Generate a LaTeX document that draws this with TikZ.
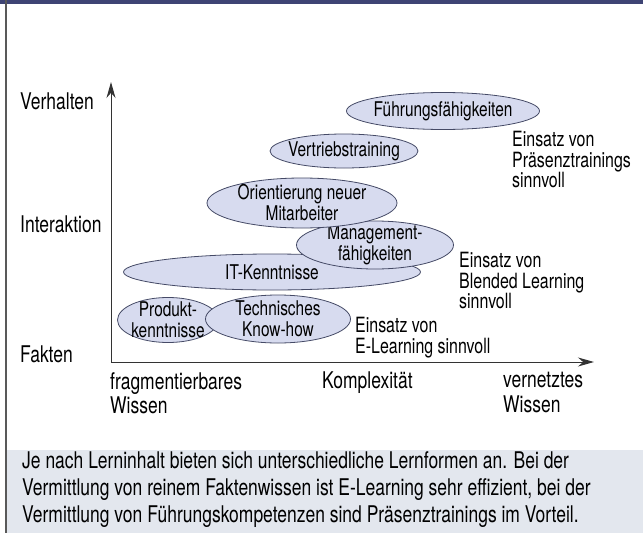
\documentclass[tikz,border=0pt]{standalone}
\usepackage{fontspec}
\setmainfont{TeX Gyre Heros}[FakeStretch=0.76]
\usetikzlibrary{shapes.geometric,arrows.meta}
\definecolor{lernblau}{HTML}{D7DBEF}
\definecolor{randblau}{HTML}{454A66}
\definecolor{kopfblau}{HTML}{3E4474}
\definecolor{kastengrau}{HTML}{E3E7EE}

\begin{document}
\begin{tikzpicture}[x=1pt,y=-1pt,
    inhalt/.style={ellipse,draw=randblau,fill=lernblau,line width=0.8pt,inner sep=0pt},
    inhalttext/.style={align=center,inner sep=0pt,font=\fontsize{20.3}{21}\selectfont},
    achse/.style={line width=1pt,draw=black!80,-{Stealth[length=16pt,width=9pt]}},
    einsatz/.style={anchor=north west,align=left,inner sep=0pt,font=\fontsize{21}{20.5}\selectfont},
    stufe/.style={anchor=west,inner sep=0pt,font=\fontsize{23}{24.5}\selectfont}]
    \useasboundingbox (0,0) rectangle (643,533);
    \fill[white] (0,0) rectangle (643,533);
    % Rahmen und Textkasten
    \fill[kastengrau] (7,450) rectangle (643,533);
    \fill[kopfblau] (0,0) rectangle (643,4);
    \draw[black!65,line width=2pt] (6,0) -- (6,533);

    % Achsen
    \coordinate (ursprung) at (111,362);
    \coordinate (yspitze) at (111,82);
    \coordinate (xspitze) at (594,362);
    \draw[achse] (ursprung) -- (yspitze);
    \draw[achse] (ursprung) -- (xspitze);

    \node[stufe] (verhalten) at (20,101) {Verhalten};
    \node[stufe] (interaktion) at (20,224) {Interaktion};
    \node[stufe] (fakten) at (20,354) {Fakten};
    \node[stufe,anchor=north west,align=left] (fragment) at (110,372) {fragmentierbares\\Wissen};
    \node[stufe,anchor=north west] (komplex) at (322,372) {Komplexität};
    \node[stufe,anchor=north west,align=left] (vernetzt) at (503,372) {vernetztes\\Wissen};

    % Lerninhalte
    \node[inhalt,minimum width=101pt,minimum height=45pt,
          label={[inhalttext]center:{Produkt-\\kenntnisse}}] (produkt) at (168,320) {};
    \node[inhalt,minimum width=145pt,minimum height=48pt,
          label={[inhalttext]center:{Technisches\\Know-how}}] (technik) at (278,319) {};
    \node[inhalt,minimum width=297pt,minimum height=36pt,
          label={[inhalttext]center:IT-Kenntnisse}] (it) at (272,272) {};
    \node[inhalt,minimum width=157pt,minimum height=48pt,
          label={[inhalttext]center:{Management-\\fähigkeiten}}] (management) at (375,245) {};
    \node[inhalt,minimum width=190pt,minimum height=50pt,
          label={[inhalttext]center:{Orientierung neuer\\Mitarbeiter}}] (orientierung) at (302,203) {};
    \node[inhalt,minimum width=148pt,minimum height=34pt,
          label={[inhalttext]center:Vertriebstraining}] (vertrieb) at (344,151) {};
    \node[inhalt,minimum width=193pt,minimum height=37pt,
          label={[inhalttext]center:Führungsfähigkeiten}] (fuehrung) at (443,111) {};

    \node[einsatz] (praesenz) at (512,131) {Einsatz von\\Präsenztrainings\\sinnvoll};
    \node[einsatz] (blended) at (459,252) {Einsatz von\\Blended Learning\\sinnvoll};
    \node[einsatz] (elearning) at (355,317) {Einsatz von\\E-Learning sinnvoll};

    % Bildunterschrift
    \node[anchor=north west,align=left,inner sep=0pt,font=\fontsize{23}{27}\selectfont] (fazit) at (22,451)
        {Je nach Lerninhalt bieten sich unterschiedliche Lernformen an. Bei der\\
         Vermittlung von reinem Faktenwissen ist E-Learning sehr effizient, bei der\\
         Vermittlung von Führungskompetenzen sind Präsenztrainings im Vorteil.};
\end{tikzpicture}
\end{document}
